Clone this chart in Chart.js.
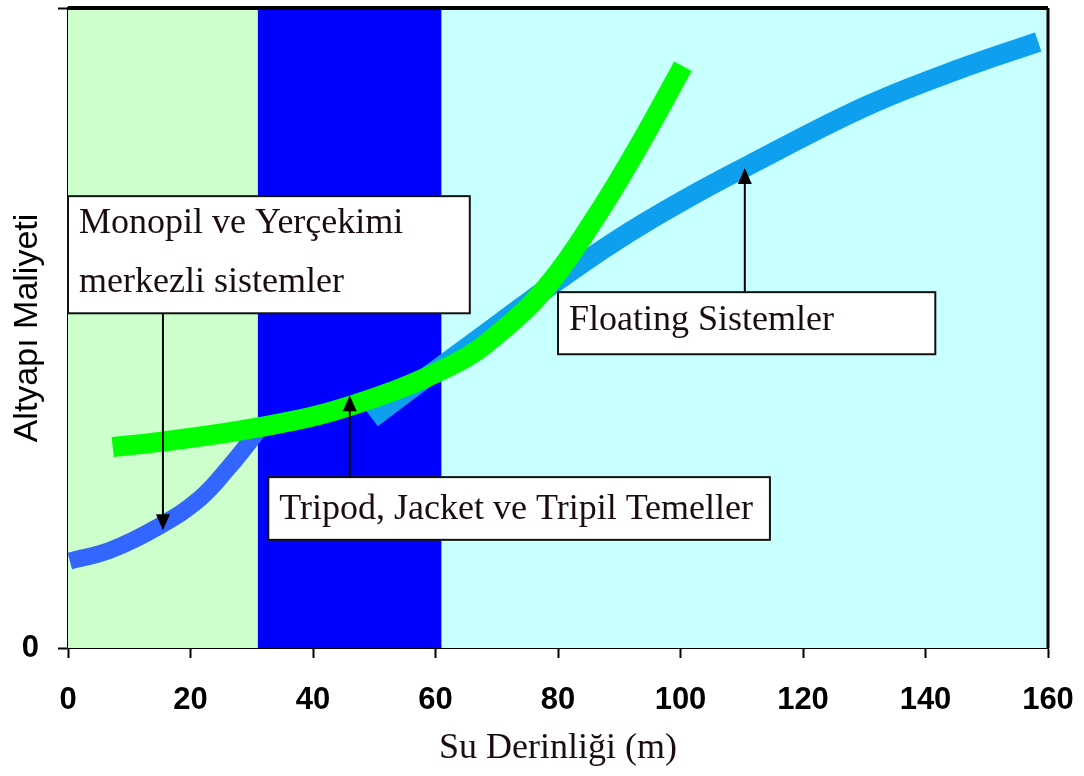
<!DOCTYPE html>
<html>
<head>
<meta charset="utf-8">
<script src="https://cdn.jsdelivr.net/npm/chart.js@4.4.1/dist/chart.umd.min.js"></script>
<style>
  html, body { margin: 0; padding: 0; background: #fff; }
  #wrap { width: 1084px; height: 776px; }
</style>
</head>
<body>
<div id="wrap"><canvas id="chart" width="1084" height="776"></canvas></div>
<script>
// axis ticks
const xTicks = [0, 20, 40, 60, 80, 100, 120, 140, 160];
const yTicks = [0, 100];

// curves (x = depth in m, y = relative cost)
const monoX = [0.3, 6.9, 15.0, 21.6, 26.4, 30.9];
const monoY = [13.6, 15.3, 19.1, 23.4, 28.4, 33.75];
const tripodX = [7.3, 15.0, 31.3, 46.0, 62.9, 71.0, 78.7, 86.4, 93.4, 100.4];
const tripodY = [31.4, 32.2, 34.5, 37.8, 44.3, 49.7, 57.1, 67.7, 78.8, 90.9];
const floatX = [49.6, 57.5, 65.6, 73.8, 80.4, 86.4, 93.4, 103.2, 110.9, 130.4, 146.8, 158.4];
const floatY = [35.9, 41.6, 47.3, 53.1, 57.7, 61.7, 66.0, 71.4, 75.3, 84.7, 90.9, 94.7];

// depth zones behind the curves
const bandEdges = [0, 31, 61, 160];
const bandColors = ['#ccffcc', '#0000ff', '#c8ffff'];

// callout texts
const noteTexts = [
  ['Monopil ve Yerçekimi', 'merkezli sistemler'],
  ['Tripod, Jacket ve Tripil Temeller'],
  ['Floating Sistemler']
];

// callout boxes [left, top, right, bottom] and arrows, in data units
const notes = [
  { box: [0, 70.6, 65.6, 52.3], lines: [37, 96], arrow: { x: 15.5, from: 52.3, to: 18.4 } },
  { box: [32.7, 26.7, 114.6, 16.9], lines: [42], arrow: { x: 46.0, from: 26.7, to: 39.5 } },
  { box: [80.0, 55.6, 141.6, 45.9], lines: [38], arrow: { x: 110.5, from: 55.6, to: 75.0 } }
];

const toPoints = (xs, ys) => xs.map((x, i) => ({ x: x, y: ys[i] }));

const bandsPlugin = {
  id: 'bands',
  beforeDatasetsDraw(chart) {
    const { ctx, chartArea, scales } = chart;
    ctx.save();
    for (let i = 0; i < bandColors.length; i++) {
      const x1 = scales.x.getPixelForValue(bandEdges[i]);
      const x2 = scales.x.getPixelForValue(bandEdges[i + 1]);
      ctx.fillStyle = bandColors[i];
      ctx.fillRect(x1, chartArea.top, x2 - x1, chartArea.bottom - chartArea.top);
    }
    ctx.restore();
  }
};

const notesPlugin = {
  id: 'notes',
  afterDatasetsDraw(chart) {
    const { ctx, chartArea, scales } = chart;
    ctx.save();

    // frame top + right
    ctx.strokeStyle = '#000';
    ctx.lineWidth = 4;
    ctx.beginPath();
    ctx.moveTo(chartArea.left, chartArea.top);
    ctx.lineTo(chartArea.right, chartArea.top);
    ctx.stroke();
    ctx.lineWidth = 3;
    ctx.beginPath();
    ctx.moveTo(chartArea.right, chartArea.top);
    ctx.lineTo(chartArea.right, chartArea.bottom);
    ctx.stroke();

    notes.forEach((n, i) => {
      const left = scales.x.getPixelForValue(n.box[0]);
      const top = scales.y.getPixelForValue(n.box[1]);
      const right = scales.x.getPixelForValue(n.box[2]);
      const bottom = scales.y.getPixelForValue(n.box[3]);

      // arrow
      const ax = scales.x.getPixelForValue(n.arrow.x);
      const ay1 = scales.y.getPixelForValue(n.arrow.from);
      const ay2 = scales.y.getPixelForValue(n.arrow.to);
      const dir = ay2 > ay1 ? 1 : -1;
      ctx.strokeStyle = '#000';
      ctx.lineWidth = 2;
      ctx.beginPath();
      ctx.moveTo(ax, ay1);
      ctx.lineTo(ax, ay2 - dir * 14);
      ctx.stroke();
      ctx.fillStyle = '#000';
      ctx.beginPath();
      ctx.moveTo(ax, ay2);
      ctx.lineTo(ax - 7, ay2 - dir * 16);
      ctx.lineTo(ax + 7, ay2 - dir * 16);
      ctx.closePath();
      ctx.fill();

      // box
      ctx.fillStyle = '#fff';
      ctx.fillRect(left, top, right - left, bottom - top);
      ctx.strokeStyle = '#111';
      ctx.lineWidth = 2;
      ctx.strokeRect(left, top, right - left, bottom - top);

      ctx.fillStyle = '#1a0d0d';
      ctx.font = '36px "Liberation Serif", serif';
      ctx.textBaseline = 'alphabetic';
      ctx.textAlign = 'left';
      noteTexts[i].forEach((t, j) => {
        ctx.fillText(t, left + 11, top + n.lines[j]);
      });
    });
    ctx.restore();
  }
};

const ctx = document.getElementById('chart').getContext('2d');

new Chart(ctx, {
  type: 'line',
  data: {
    datasets: [
      {
        label: 'Tripod, Jacket ve Tripil Temeller',
        data: toPoints(tripodX, tripodY),
        borderColor: '#00ff00',
        borderWidth: 20
      },
      {
        label: 'Floating Sistemler',
        data: toPoints(floatX, floatY),
        borderColor: '#0ea0ef',
        borderWidth: 20
      },
      {
        label: 'Monopil ve Yerçekimi merkezli sistemler',
        data: toPoints(monoX, monoY),
        borderColor: '#3366ff',
        borderWidth: 17
      }
    ]
  },
  options: {
    responsive: false,
    animation: false,
    devicePixelRatio: 1,
    layout: { padding: { top: 8, right: 36, left: 0, bottom: 0 } },
    elements: {
      point: { radius: 0, hoverRadius: 0 },
      line: { tension: 0.4, borderCapStyle: 'butt', borderJoinStyle: 'round', fill: false }
    },
    plugins: {
      legend: { display: false },
      tooltip: { enabled: false }
    },
    scales: {
      x: {
        type: 'linear',
        min: 0,
        max: 160,
        afterBuildTicks: scale => { scale.ticks = xTicks.map(v => ({ value: v })); },
        afterFit: scale => {
          scale.height = 128;
          scale.paddingLeft = 0;
          scale.paddingRight = 0;
        },
        ticks: {
          color: '#000',
          padding: 24,
          font: { family: '"Liberation Sans", Arial, sans-serif', size: 31, weight: 'bold' }
        },
        grid: { drawOnChartArea: false, drawTicks: true, tickLength: 10, tickColor: '#000', tickWidth: 2 },
        border: { display: true, color: '#000', width: 2 },
        title: {
          display: true,
          text: 'Su Derinliği (m)',
          color: '#1a0d0d',
          padding: { top: 0, bottom: 6 },
          font: { family: '"Liberation Serif", serif', size: 36 }
        }
      },
      y: {
        min: 0,
        max: 100,
        afterBuildTicks: scale => { scale.ticks = yTicks.map(v => ({ value: v })); },
        afterFit: scale => {
          scale.width = 68;
          scale.paddingTop = 0;
          scale.paddingBottom = 0;
        },
        ticks: {
          color: '#000',
          padding: 19,
          callback: v => (v === 0 ? '0' : ''),
          font: { family: '"Liberation Sans", Arial, sans-serif', size: 31, weight: 'bold' }
        },
        grid: { drawOnChartArea: false, drawTicks: true, tickLength: 10, tickColor: '#000', tickWidth: 2 },
        border: { display: true, color: '#000', width: 2 },
        title: {
          display: true,
          text: 'Altyapı Maliyeti',
          color: '#000',
          padding: { top: 7, bottom: 0 },
          font: { family: '"Liberation Sans", Arial, sans-serif', size: 34 }
        }
      }
    }
  },
  plugins: [bandsPlugin, notesPlugin]
});
</script>
</body>
</html>
